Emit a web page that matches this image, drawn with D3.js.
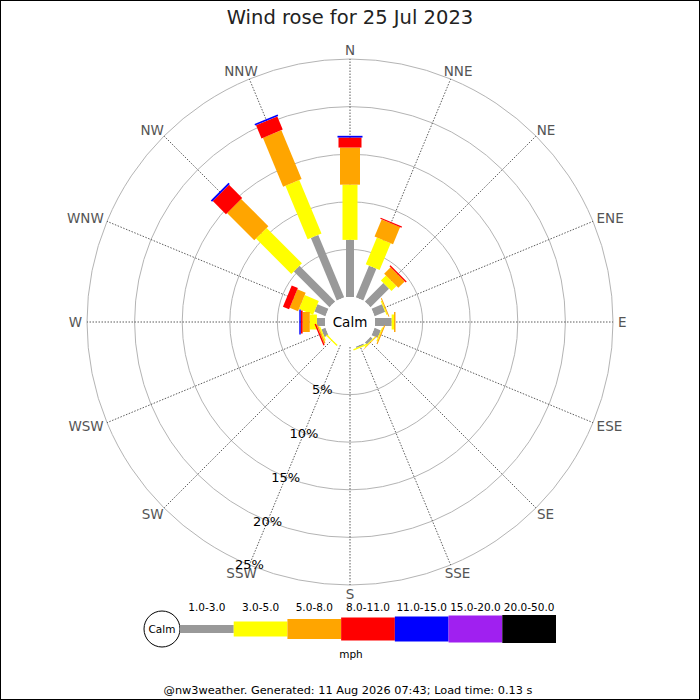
<!DOCTYPE html>
<html>
<head>
<meta charset="utf-8">
<script src="https://cdn.jsdelivr.net/npm/d3@7"></script>
<style>
body { margin: 0; background: white; }
text { font-family: "DejaVu Sans", sans-serif; }
</style>
</head>
<body>
<div id="rose"></div>
<script>
// data
var dirs = ["N","NNE","NE","ENE","E","ESE","SE","SSE","S","SSW","SW","WSW","W","WNW","NW","NNW"];
var bandLabels = ["1.0-3.0","3.0-5.0","5.0-8.0","8.0-11.0","11.0-15.0","15.0-20.0","20.0-50.0"];
var bandColors = ["#999999","#ffff00","#ffa500","#ff0000","#0000ff","#a020f0","#000000"];
var rangeTicks = [5, 10, 15, 20, 25];
// percent per direction, one array per speed band
var b1 = [6.0, 3.6, 2.75, 1.2, 1.75, 0.7, 0.3, 0.15, 0, 0, 0, 0.45, 0.85, 1.25, 5.3, 7.1];
var b2 = [5.8, 3.05, 0.75, 0.12, 0.25, 0.12, 0.1, 0.15, 0, 0, 0.15, 0.15, 0.75, 1.6, 5.25, 6.1];
var b3 = [3.9, 1.95, 0.95, 0.1, 0.15, 0.12, 0.05, 0, 0, 0, 0, 0.15, 0.75, 0.95, 4.05, 5.55];
var b4 = [1.05, 0.14, 0.14, 0, 0, 0, 0, 0, 0, 0, 0, 0.15, 0.2, 0.7, 1.95, 1.5];
var b5 = [0.18, 0, 0, 0, 0, 0, 0, 0, 0, 0, 0, 0, 0.15, 0, 0.19, 0.17];
var b6 = [0, 0, 0, 0, 0, 0, 0, 0, 0, 0, 0, 0, 0, 0, 0, 0];
var b7 = [0, 0, 0, 0, 0, 0, 0, 0, 0, 0, 0, 0, 0, 0, 0, 0];

// setup
var w = 700, h = 700;
var cx = 350, cy = 322;
var calmR = 25, outerR = 263;
var barW = [8, 15, 20, 23, 25, 27, 28];

var svg = d3.select("#rose").append("svg")
    .attr("width", w).attr("height", h)
    .style("display", "block");

svg.append("rect")
    .attr("x", 0.5).attr("y", 0.5).attr("width", w - 1).attr("height", h - 1)
    .attr("fill", "white").attr("stroke", "black");

svg.append("text")
    .attr("x", cx).attr("y", 24)
    .attr("text-anchor", "middle")
    .attr("font-size", 19.5)
    .attr("fill", "#222")
    .text("Wind rose for 25 Jul 2023");

var r = d3.scaleLinear().domain([0, 25]).range([calmR, outerR]);
var ang = d3.scalePoint().domain(dirs).range([0, 337.5]);
function px(a, rad) { return cx + rad * Math.sin(a * Math.PI / 180); }
function py(a, rad) { return cy - rad * Math.cos(a * Math.PI / 180); }

// grid circles
svg.append("g").selectAll("circle")
    .data(rangeTicks)
    .join("circle")
        .attr("cx", cx).attr("cy", cy)
        .attr("r", function(d){ return r(d); })
        .attr("fill", "none")
        .attr("stroke", "#b4b4b4")
        .attr("stroke-width", 1);

// direction axes
svg.append("g").selectAll("line")
    .data(dirs)
    .join("line")
        .attr("x1", function(d){ return px(ang(d), calmR); })
        .attr("y1", function(d){ return py(ang(d), calmR); })
        .attr("x2", function(d){ return px(ang(d), outerR); })
        .attr("y2", function(d){ return py(ang(d), outerR); })
        .attr("stroke", "#333")
        .attr("stroke-width", 0.8)
        .attr("stroke-dasharray", "1.5,1.5");

// compass labels, pushed out by half their box
var labelSize = 13.5;
svg.append("g").selectAll("text")
    .data(dirs)
    .join("text")
        .attr("text-anchor", "middle")
        .attr("dominant-baseline", "central")
        .attr("font-size", labelSize)
        .attr("fill", "#555")
        .text(function(d){ return d; })
        .each(function(d){
            var hw = this.getComputedTextLength() / 2;
            var a = ang(d);
            d3.select(this)
                .attr("x", px(a, 268 + hw))
                .attr("y", py(a, 267 + 5));
        });

// stacked bars
var keys = ["b1","b2","b3","b4","b5","b6","b7"];
var bands = [b1, b2, b3, b4, b5, b6, b7];
var rows = dirs.map(function(d, i){
    var row = {dir: d};
    keys.forEach(function(k, j){ row[k] = bands[j][i]; });
    return row;
});
var stacked = d3.stack().keys(keys)(rows);

var bars = svg.append("g");
stacked.forEach(function(layer, j){
    bars.append("g")
        .attr("fill", bandColors[j])
        .selectAll("rect")
        .data(layer.filter(function(s){ return s[1] - s[0] > 0; }))
        .join("rect")
            .attr("transform", function(s){
                return "translate(" + cx + "," + cy + ") rotate(" + ang(s.data.dir) + ")";
            })
            .attr("x", -barW[j] / 2)
            .attr("width", barW[j])
            .attr("y", function(s){ return -r(s[1]); })
            .attr("height", function(s){ return r(s[1]) - r(s[0]); });
});

// calm circle
svg.append("circle")
    .attr("cx", cx).attr("cy", cy).attr("r", calmR)
    .attr("fill", "white");
svg.append("text")
    .attr("x", cx).attr("y", cy)
    .attr("text-anchor", "middle")
    .attr("dominant-baseline", "central")
    .attr("font-size", 13.5)
    .text("Calm");

// range labels along SSW
svg.append("g").selectAll("text")
    .data(rangeTicks)
    .join("text")
        .attr("x", function(d){ return px(202.5, r(d)); })
        .attr("y", function(d){ return py(202.5, r(d)); })
        .attr("text-anchor", "middle")
        .attr("dominant-baseline", "central")
        .attr("font-size", 13)
        .text(function(d){ return d + "%"; });

// legend
var ly = 629;
var lx = d3.scaleBand().domain(bandLabels).range([180, 556]);
var legend = svg.append("g");
legend.append("circle")
    .attr("cx", 162).attr("cy", ly).attr("r", 18)
    .attr("fill", "white").attr("stroke", "black");
legend.append("text")
    .attr("x", 162).attr("y", ly)
    .attr("text-anchor", "middle")
    .attr("dominant-baseline", "central")
    .attr("font-size", 10.5)
    .text("Calm");
legend.selectAll("rect")
    .data(bandLabels)
    .join("rect")
        .attr("x", function(d){ return lx(d); })
        .attr("width", lx.bandwidth())
        .attr("y", function(d, i){ return ly - barW[i] / 2; })
        .attr("height", function(d, i){ return barW[i]; })
        .attr("fill", function(d, i){ return bandColors[i]; });
legend.selectAll("text.lab")
    .data(bandLabels)
    .join("text")
        .attr("class", "lab")
        .attr("x", function(d){ return lx(d) + lx.bandwidth() / 2; })
        .attr("y", 611)
        .attr("text-anchor", "middle")
        .attr("font-size", 10.5)
        .text(function(d){ return d; });
legend.append("text")
    .attr("x", 351).attr("y", 658)
    .attr("text-anchor", "middle")
    .attr("font-size", 10.5)
    .text("mph");

svg.append("text")
    .attr("x", 348).attr("y", 694)
    .attr("text-anchor", "middle")
    .attr("font-size", 11.3)
    .text("@nw3weather. Generated: 11 Aug 2026 07:43; Load time: 0.13 s");
</script>
</body>
</html>
